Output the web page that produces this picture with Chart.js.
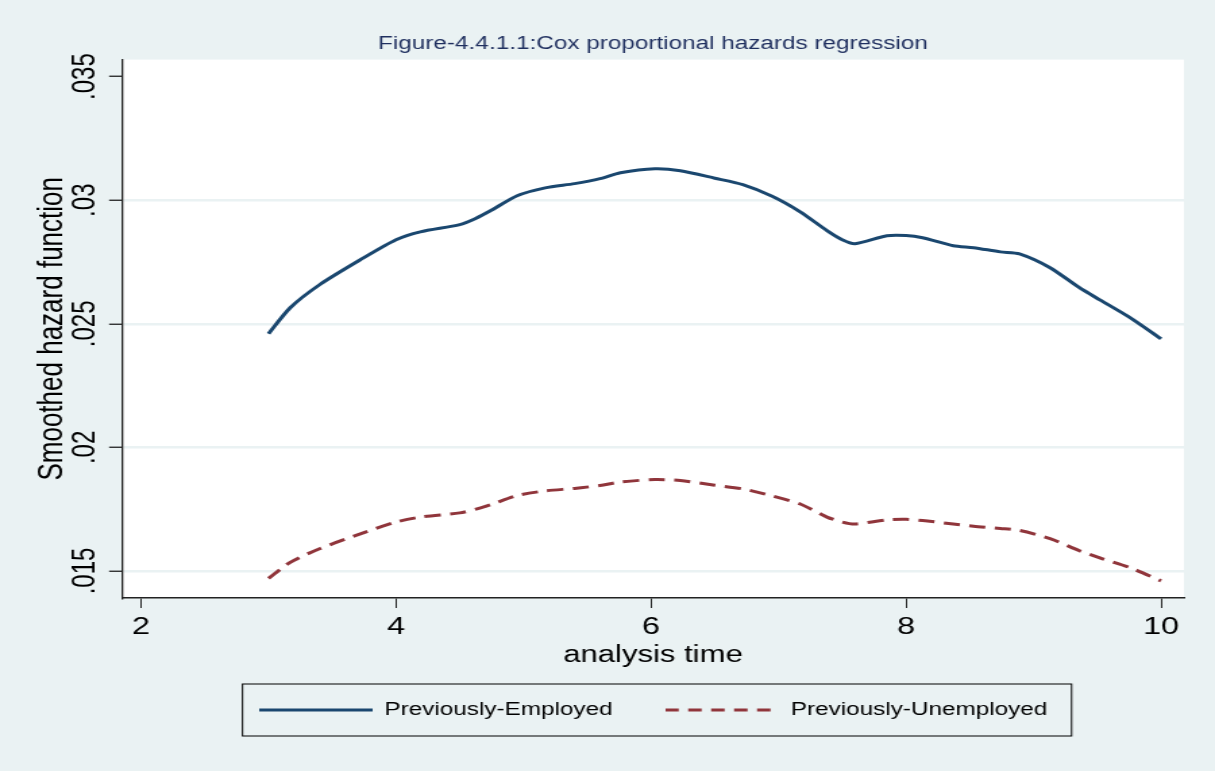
<!DOCTYPE html>
<html>
<head>
<meta charset="utf-8">
<script src="https://cdn.jsdelivr.net/npm/chart.js@4.4.1/dist/chart.umd.min.js"></script>
<style>
  html, body { margin: 0; padding: 0; background: #eaf2f3; }
  #c { display: block; width: 1215px; height: 771px; }
</style>
</head>
<body>
<canvas id="c" width="900" height="771" style="width:1215px;height:771px;"></canvas>
<script>
// ---- data ----
const analysisTime = [3.0, 3.17, 3.4, 3.72, 4.0, 4.19, 4.5, 4.62, 4.74, 4.95, 5.17, 5.4, 5.6, 5.76, 6.03, 6.23, 6.5, 6.72, 6.95, 7.17, 7.38, 7.5, 7.6, 7.85, 8.0, 8.13, 8.37, 8.53, 8.74, 8.89, 9.13, 9.36, 9.52, 9.76, 10.0];
const previouslyEmployed = [0.0246, 0.02565, 0.02658, 0.02759, 0.0284, 0.02872, 0.02901, 0.02925, 0.02957, 0.03018, 0.0305, 0.03067, 0.03087, 0.03111, 0.03127, 0.03119, 0.03089, 0.03063, 0.03016, 0.02953, 0.02877, 0.0284, 0.02824, 0.02856, 0.02857, 0.02848, 0.02816, 0.02808, 0.02791, 0.02783, 0.02727, 0.02646, 0.02597, 0.02524, 0.02439];
const previouslyUnemployed = [0.0147, 0.01535, 0.0159, 0.0165, 0.01698, 0.01718, 0.01735, 0.01749, 0.01768, 0.01805, 0.01824, 0.01834, 0.01846, 0.0186, 0.0187, 0.01866, 0.01847, 0.01832, 0.01804, 0.01771, 0.01718, 0.01698, 0.0169, 0.01707, 0.01709, 0.01704, 0.0169, 0.01681, 0.01672, 0.01664, 0.01631, 0.01582, 0.01553, 0.01513, 0.0146];
const seriesNames = ['Previously-Employed', 'Previously-Unemployed'];
const xTickValues = [2, 4, 6, 8, 10];
const xTickLabels = ['2', '4', '6', '8', '10'];
const yTickValues = [0.015, 0.02, 0.025, 0.03, 0.035];
const yTickLabels = ['.015', '.02', '.025', '.03', '.035'];
const chartTitle = 'Figure-4.4.1.1:Cox proportional hazards regression';
const xTitle = 'analysis time';
const yTitle = 'Smoothed hazard function';

const FONT = "'Liberation Sans', Arial, Helvetica, sans-serif";
Chart.defaults.font.family = FONT;
Chart.defaults.color = '#000';

const toPoints = (ys) => analysisTime.map((x, i) => ({ x: x, y: ys[i] }));

// legend line samples (solid / dashed) drawn into small canvases
function legendSample(color, dash) {
  const c = document.createElement('canvas');
  c.width = 84; c.height = 4;
  const g = c.getContext('2d');
  g.strokeStyle = color;
  g.lineWidth = 3;
  g.setLineDash(dash);
  g.beginPath();
  g.moveTo(0, 2);
  g.lineTo(84, 2);
  g.stroke();
  return c;
}

const backgroundPlugin = {
  id: 'stataBackground',
  beforeDraw(chart) {
    const { ctx, chartArea } = chart;
    ctx.save();
    ctx.fillStyle = '#eaf2f3';
    ctx.fillRect(0, 0, chart.width, chart.height);
    ctx.fillStyle = '#ffffff';
    ctx.fillRect(chartArea.left, chartArea.top, chartArea.right - chartArea.left, chartArea.bottom - chartArea.top);
    ctx.restore();
  }
};

const legendBoxPlugin = {
  id: 'legendBox',
  afterDraw(chart) {
    const lg = chart.legend;
    if (!lg || !lg.legendHitBoxes || !lg.legendHitBoxes.length) return;
    const hb = lg.legendHitBoxes;
    const first = hb[0], last = hb[hb.length - 1];
    const left = first.left - 12;
    const right = last.left + last.width + 18;
    const cy = first.top + first.height / 2;
    const ctx = chart.ctx;
    ctx.save();
    ctx.strokeStyle = '#000';
    ctx.lineWidth = 1;
    ctx.strokeRect(left, cy - 26, right - left, 52);
    ctx.restore();
  }
};

new Chart(document.getElementById('c'), {
  type: 'line',
  data: {
    datasets: [
      {
        label: seriesNames[0],
        data: toPoints(previouslyEmployed),
        borderColor: '#1a476f',
        backgroundColor: '#1a476f',
        borderWidth: 3,
        pointRadius: 0,
        tension: 0.25,
        fill: false
      },
      {
        label: seriesNames[1],
        data: toPoints(previouslyUnemployed),
        borderColor: '#90353b',
        backgroundColor: '#90353b',
        borderWidth: 3,
        borderDash: [12, 7],
        pointRadius: 0,
        tension: 0.25,
        fill: false
      }
    ]
  },
  options: {
    responsive: false,
    animation: false,
    devicePixelRatio: 1,
    events: [],
    layout: { padding: { left: 0, right: 23, top: 0, bottom: 42 } },
    plugins: {
      title: {
        display: true,
        text: chartTitle,
        fullSize: false,
        color: '#1f2f5f',
        font: { family: FONT, size: 18, weight: 'normal' },
        padding: { top: 33, bottom: 5 }
      },
      legend: {
        display: true,
        position: 'bottom',
        fullSize: false,
        labels: {
          usePointStyle: true,
          pointStyleWidth: 84,
          boxWidth: 84,
          boxHeight: 4,
          padding: 39,
          color: '#000',
          font: { family: FONT, size: 18 },
          generateLabels(chart) {
            const items = Chart.defaults.plugins.legend.labels.generateLabels(chart);
            items.forEach((it) => {
              const ds = chart.data.datasets[it.datasetIndex];
              it.pointStyle = legendSample(ds.borderColor, ds.borderDash ? [10, 7] : []);
            });
            return items;
          }
        }
      },
      tooltip: { enabled: false }
    },
    scales: {
      x: {
        type: 'linear',
        min: 1.851,
        max: 10.18,
        afterBuildTicks(scale) { scale.ticks = xTickValues.map(v => ({ value: v })); },
        afterFit(scale) { scale.height = 64; },
        ticks: {
          autoSkip: false,
          maxRotation: 0,
          padding: 5,
          color: '#000',
          font: { family: FONT, size: 24 },
          callback: (v, i) => xTickLabels[i]
        },
        grid: {
          drawOnChartArea: false,
          drawTicks: true,
          tickLength: 10,
          tickColor: '#222',
          tickWidth: 1
        },
        border: { display: true, color: '#222', width: 1.5 },
        title: {
          display: true,
          text: xTitle,
          color: '#000',
          font: { family: FONT, size: 23 },
          padding: { top: 0, bottom: -7 }
        }
      },
      y: {
        type: 'linear',
        min: 0.013907,
        max: 0.035688,
        afterBuildTicks(scale) { scale.ticks = yTickValues.map(v => ({ value: v })); },
        afterFit(scale) { scale.width = 90.4; },
        ticks: {
          autoSkip: false,
          minRotation: 90,
          maxRotation: 90,
          crossAlign: 'center',
          padding: -5.5,
          color: '#000',
          font: { family: FONT, size: 24 },
          callback: (v, i) => yTickLabels[i]
        },
        grid: {
          drawOnChartArea: true,
          drawTicks: true,
          tickLength: 9.6,
          color: (ctx) => (ctx.tick && ctx.tick.value === 0.035 ? 'rgba(0,0,0,0)' : '#eaf2f3'),
          lineWidth: 2.5,
          tickColor: '#222',
          tickWidth: 1.3
        },
        border: { display: true, color: '#222', width: 1.3 },
        title: {
          display: true,
          text: yTitle,
          color: '#000',
          font: { family: FONT, size: 26 },
          padding: { top: 23, bottom: 0 }
        }
      }
    }
  },
  plugins: [backgroundPlugin, legendBoxPlugin]
});
</script>
</body>
</html>
